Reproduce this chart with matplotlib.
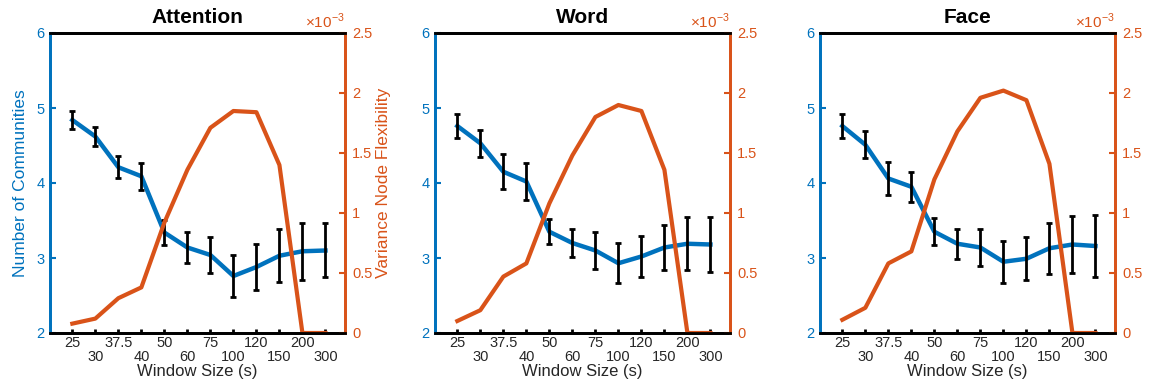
import numpy as np
import matplotlib
matplotlib.use("Agg")
import matplotlib.pyplot as plt
from matplotlib.ticker import FixedLocator, FuncFormatter

plt.rcParams['font.family'] = ['Liberation Sans', 'DejaVu Sans']
plt.rcParams['mathtext.fontset'] = 'custom'
plt.rcParams['mathtext.rm'] = 'Liberation Sans'

# window sizes (s)
windows = ['25', '30', '37.5', '40', '50', '60', '75', '100', '120', '150', '200', '300']
titles = ['Attention', 'Word', 'Face']

# number of communities (mean) and error half-widths
comm_att = [4.84, 4.62, 4.21, 4.09, 3.34, 3.14, 3.04, 2.76, 2.88, 3.03, 3.09, 3.10]
err_att = [0.12, 0.125, 0.145, 0.18, 0.17, 0.20, 0.245, 0.28, 0.30, 0.35, 0.38, 0.36]
comm_word = [4.76, 4.53, 4.15, 4.02, 3.35, 3.20, 3.10, 2.93, 3.02, 3.14, 3.19, 3.18]
err_word = [0.155, 0.18, 0.23, 0.24, 0.17, 0.19, 0.25, 0.27, 0.27, 0.30, 0.35, 0.37]
comm_face = [4.76, 4.51, 4.06, 3.95, 3.35, 3.19, 3.14, 2.95, 2.99, 3.13, 3.18, 3.16]
err_face = [0.155, 0.18, 0.22, 0.20, 0.18, 0.20, 0.25, 0.28, 0.29, 0.34, 0.38, 0.41]

# variance of node flexibility
var_att = [0.078e-3, 0.12e-3, 0.29e-3, 0.38e-3, 0.92e-3, 1.36e-3, 1.71e-3, 1.85e-3, 1.84e-3, 1.40e-3, 0, 0]
var_word = [0.10e-3, 0.19e-3, 0.47e-3, 0.58e-3, 1.08e-3, 1.48e-3, 1.80e-3, 1.90e-3, 1.85e-3, 1.36e-3, 0, 0]
var_face = [0.11e-3, 0.21e-3, 0.58e-3, 0.68e-3, 1.28e-3, 1.68e-3, 1.96e-3, 2.02e-3, 1.94e-3, 1.41e-3, 0, 0]

comms = [comm_att, comm_word, comm_face]
errs = [err_att, err_word, err_face]
varis = [var_att, var_word, var_face]

blue = '#0072BD'
orange = '#D95319'
grey = '#262626'

fig = plt.figure(figsize=(11.57, 3.88), dpi=100)
lefts = [50, 435, 820]
x = np.arange(1, len(windows) + 1)

for k in range(3):
    ax = fig.add_axes([lefts[k] / 1157, 55 / 388, 295 / 1157, 300 / 388])
    ax2 = ax.twinx()

    ax.plot(x, comms[k], color=blue, lw=3.2, zorder=2)
    ax.errorbar(x, comms[k], yerr=errs[k], fmt='none', ecolor='black',
                elinewidth=2, capsize=2, capthick=2, zorder=3)
    ax2.plot(x, varis[k], color=orange, lw=3, zorder=2)

    ax.set_xlim(0.03, 12.85)
    ax.set_ylim(2, 6)
    ax.set_yticks([2, 3, 4, 5, 6])
    ax2.set_ylim(0, 2.5e-3)
    ax2.set_yticks(np.arange(0, 2.6e-3, 0.5e-3))
    ax2.yaxis.set_major_formatter(FuncFormatter(lambda v, p: '%g' % round(v * 1e3, 3)))
    ax2.text(1.0, 1.008, r'$\times10^{-3}$', transform=ax2.transAxes, ha='right',
             va='bottom', color=orange, fontsize=11)

    # alternating tick label rows
    ax.xaxis.set_major_locator(FixedLocator(x[0::2]))
    ax.set_xticklabels(windows[0::2])
    ax.xaxis.set_minor_locator(FixedLocator(x[1::2]))
    ax.set_xticklabels(windows[1::2], minor=True)
    ax.tick_params(axis='x', which='major', direction='in', length=3, width=2,
                   pad=2, labelsize=10.5, labelcolor=grey, color='black')
    ax.tick_params(axis='x', which='minor', direction='in', length=3, width=2,
                   pad=12, labelsize=10.5, labelcolor=grey, color='black')
    ax.tick_params(axis='y', direction='in', length=4, width=1.5, colors=blue,
                   labelsize=10.5, pad=4)
    ax2.tick_params(axis='y', direction='in', length=4, width=1.5, colors=orange,
                    labelsize=10.5, pad=5)

    for a in (ax, ax2):
        a.spines['top'].set_color('black')
        a.spines['bottom'].set_color('black')
        a.spines['left'].set_color(blue)
        a.spines['right'].set_color(orange)
        for s in a.spines.values():
            s.set_linewidth(2)

    ax.set_xlabel('Window Size (s)', fontsize=12, color=grey, labelpad=0)
    ax.set_title(titles[k], fontsize=15, fontweight='bold', pad=7)

    if k == 0:
        ax.set_ylabel('Number of Communities', fontsize=12.5, color=blue, labelpad=6)
        ax2.set_ylabel('Variance Node Flexibility', fontsize=12.5, color=orange, labelpad=3)

fig.savefig('out.png', dpi=100)
